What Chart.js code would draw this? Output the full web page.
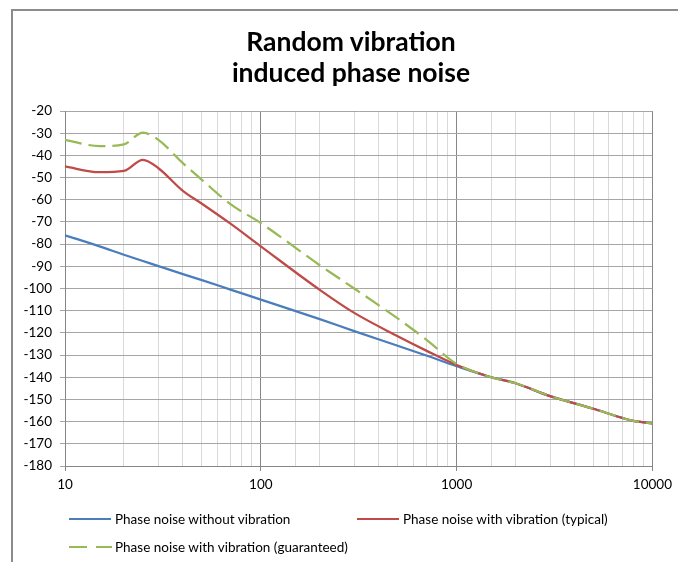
<!DOCTYPE html>
<html>
<head>
<meta charset="utf-8">
<script src="https://cdn.jsdelivr.net/npm/chart.js@4.4.1/dist/chart.umd.min.js"></script>
<style>
  body { margin: 0; background: #fff; }
  #wrap { position: relative; width: 678px; height: 562px; overflow: hidden; font-family: Lato, "Open Sans", sans-serif; color: #000; }
  #frame { position: absolute; left: 11px; top: 9px; width: 700px; height: 600px; border-top: 2px solid #8c8c8c; border-left: 2px solid #8c8c8c; }
  #title { position: absolute; left: 151px; width: 400px; top: 26px; text-align: center; font-weight: bold; font-size: 26.5px; line-height: 31px; }
  #chart { position: absolute; left: 0; top: 0; }
  .item { position: absolute; font-size: 13.5px; line-height: 16px; white-space: nowrap; }
  .swatch { position: absolute; top: 7px; height: 0; width: 42px; border-top: 2px solid; }
</style>
</head>
<body>
<div id="wrap">
  <div id="frame"></div>
  <canvas id="chart" width="678" height="562"></canvas>
  <div id="title">Random vibration<br>induced phase noise</div>
  <div id="legend"></div>
</div>
<script>
// x values (Hz, log axis) and the three curves
const freq = [10, 15, 20, 25, 30, 40, 50, 70, 100, 200, 300, 500, 700, 1000, 1500, 2000, 3000, 5000, 7000, 8000, 10000];
const noVibration = [-76, -81, -84.8, -87.6, -89.9, -93.5, -96.2, -100.5, -105, -113.8, -119.2, -125.8, -130.2, -135, -140, -142.7, -148.5, -154.2, -158.3, -159.7, -160.8];
const typical = [-45, -47.6, -47, -42, -45.8, -56, -61.8, -70.8, -81, -100.6, -111, -121.5, -128, -134.5, -140, -142.7, -148.5, -154.2, -158.3, -159.7, -160.8];
const guaranteed = [-33, -35.8, -35, -29.7, -33, -43.5, -51, -62, -70.5, -89.5, -100, -113.5, -123, -134, -140, -142.7, -148.5, -154.2, -158.3, -159.7, -160.8];

const decades = [10, 100, 1000, 10000];
const seriesNames = ['Phase noise without vibration', 'Phase noise with vibration (typical)', 'Phase noise with vibration (guaranteed)'];
const colors = ['#4a7ebb', '#be4b48', '#98b954'];

const isDecade = v => decades.some(d => Math.abs(d - v) < 1e-6 * d);
const pts = vals => freq.map((f, i) => ({ x: f, y: vals[i] }));

// html legend, laid out like the original (two columns)
const legendPos = [[69, 511], [357, 511], [69, 539]];
const legend = document.getElementById('legend');
seriesNames.forEach((name, i) => {
  const el = document.createElement('div');
  el.className = 'item';
  el.style.left = legendPos[i][0] + 'px';
  el.style.top = legendPos[i][1] + 'px';
  const sw = i === 2
    ? '<span class="swatch" style="left:0;width:18px;border-color:' + colors[i] + '"></span><span class="swatch" style="left:27px;width:16px;border-color:' + colors[i] + '"></span>'
    : '<span class="swatch" style="left:0;border-color:' + colors[i] + '"></span>';
  el.innerHTML = sw + '<span style="margin-left:46px">' + name + '</span>';
  legend.appendChild(el);
});

const tickFont = { family: 'Lato, "Open Sans", sans-serif', size: 13.5 };

new Chart(document.getElementById('chart'), {
  type: 'line',
  data: {
    datasets: [
      { label: seriesNames[0], data: pts(noVibration), borderColor: colors[0], order: 3 },
      { label: seriesNames[1], data: pts(typical), borderColor: colors[1], order: 2 },
      { label: seriesNames[2], data: pts(guaranteed), borderColor: colors[2], borderDash: [17, 7], order: 1 }
    ]
  },
  options: {
    responsive: false,
    animation: false,
    devicePixelRatio: 1,
    layout: { padding: { left: 0, right: 25, top: 111, bottom: 66 } },
    elements: {
      point: { radius: 0 },
      line: { borderWidth: 2.25, cubicInterpolationMode: 'monotone', fill: false }
    },
    plugins: {
      legend: { display: false },
      title: { display: false },
      tooltip: { enabled: false }
    },
    scales: {
      x: {
        type: 'logarithmic',
        min: 10,
        max: 10000,
        afterFit: s => { s.height = 30; },
        border: { color: '#868686' },
        grid: {
          color: ctx => isDecade(ctx.tick.value) ? '#868686' : '#d9d9d9',
          tickColor: ctx => isDecade(ctx.tick.value) ? '#868686' : 'rgba(0,0,0,0)',
          tickLength: 5
        },
        ticks: {
          autoSkip: false,
          maxRotation: 0,
          padding: 6,
          color: '#000',
          font: tickFont,
          callback: v => isDecade(v) ? String(Math.round(v)) : ''
        }
      },
      y: {
        min: -180,
        max: -20,
        afterFit: s => { s.width = 65; },
        border: { color: '#868686' },
        grid: { color: '#a6a6a6', tickLength: 5 },
        ticks: { stepSize: 10, padding: 8, color: '#000', font: tickFont }
      }
    }
  }
});
</script>
</body>
</html>
